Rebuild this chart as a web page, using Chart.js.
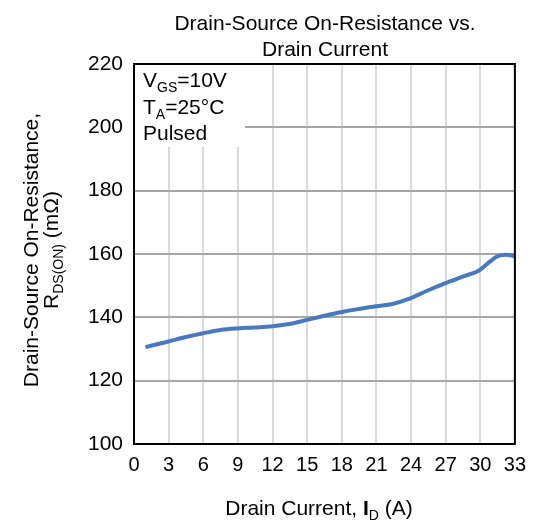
<!DOCTYPE html>
<html>
<head>
<meta charset="utf-8">
<script src="https://cdn.jsdelivr.net/npm/chart.js@4/dist/chart.umd.min.js"></script>
<style>
	html, body { margin: 0; padding: 0; background: #fff; }
	#wrap { position: relative; width: 535px; height: 522px; }
</style>
</head>
<body>
<div id="wrap"><canvas id="rds-chart"></canvas></div>
<script>
// drain current (A) and on-resistance (mOhm)
const drainCurrent = [1.0, 2.9, 4.4, 6.0, 7.5, 9.0, 10.4, 12.0, 13.6, 15.0, 16.4, 17.9, 19.4, 21.0, 22.4, 23.8, 25.4, 27.0, 28.6, 29.9, 30.6, 31.5, 32.2, 33.0];
const rdsOn = [130.6, 132.3, 133.7, 135.0, 136.0, 136.5, 136.8, 137.2, 138.0, 139.2, 140.4, 141.6, 142.6, 143.5, 144.2, 145.8, 148.4, 150.8, 153.0, 154.8, 156.9, 159.3, 159.8, 159.3];

const xTicks = [0, 3, 6, 9, 12, 15, 18, 21, 24, 27, 30, 33];
const yTicks = [100, 120, 140, 160, 180, 200, 220];

const titleLines = ["Drain-Source On-Resistance vs.", "Drain Current"];
const FONT = "'Liberation Sans', Arial, sans-serif";

// draws text made of runs, some of them subscript / bold
const drawRich = (ctx, parts, x, y, size, align) => {
	const subSize = Math.round(size * 0.68);
	const fontOf = (p) => (p.bold ? "bold " : "") + (p.sub ? subSize : size) + "px " + FONT;
	let total = 0;
	parts.forEach((p) => {
		ctx.font = fontOf(p);
		p.w = ctx.measureText(p.t).width;
		total += p.w;
	});
	let cx = align === "center" ? x - total / 2 : x;
	ctx.textAlign = "left";
	ctx.textBaseline = "alphabetic";
	parts.forEach((p) => {
		ctx.font = fontOf(p);
		ctx.fillText(p.t, cx, p.sub ? y + size * 0.25 : y);
		cx += p.w;
	});
};

const decorations = {
	id: "decorations",
	beforeDatasetsDraw(chart) {
		const { ctx, chartArea } = chart;
		ctx.save();
		// legend box hides the grid behind it
		ctx.fillStyle = "#fff";
		ctx.fillRect(chartArea.left, chartArea.top, 111, 83);
		ctx.restore();
	},
	afterDraw(chart) {
		const { ctx, chartArea } = chart;
		ctx.save();
		ctx.strokeStyle = "#000";
		ctx.lineWidth = 2;
		ctx.strokeRect(chartArea.left, chartArea.top, chartArea.right - chartArea.left, chartArea.bottom - chartArea.top);

		ctx.fillStyle = "#000";
		// title
		drawRich(ctx, [{ t: titleLines[0] }], 325, 30, 21, "center");
		drawRich(ctx, [{ t: titleLines[1] }], 325, 56, 21, "center");

		// legend text
		drawRich(ctx, [{ t: "V" }, { t: "GS", sub: true }, { t: "=10V" }], 143, 87, 21, "left");
		drawRich(ctx, [{ t: "T" }, { t: "A", sub: true }, { t: "=25°C" }], 143, 114, 21, "left");
		drawRich(ctx, [{ t: "Pulsed" }], 143, 140, 21, "left");

		// x axis title
		drawRich(ctx, [{ t: "Drain Current, " }, { t: "I", bold: true }, { t: "D", sub: true }, { t: " (A)" }], 319, 515, 21, "center");

		// y axis title, rotated
		ctx.translate(0, 250);
		ctx.rotate(-Math.PI / 2);
		drawRich(ctx, [{ t: "Drain-Source On-Resistance," }], 0, 38, 21, "center");
		drawRich(ctx, [{ t: "R" }, { t: "DS(ON)", sub: true }, { t: " (mΩ)" }], 0, 58, 21, "center");
		ctx.restore();
	},
};

const ctx = document.getElementById("rds-chart");

new Chart(ctx, {
	type: "line",
	data: {
		datasets: [
			{
				label: "RDS(ON)",
				data: drainCurrent.map((x, i) => ({ x, y: rdsOn[i] })),
				borderColor: "#4879bf",
				borderWidth: 4,
				pointRadius: 0,
				fill: false,
				cubicInterpolationMode: "monotone",
			},
		],
	},
	options: {
		responsive: true,
		maintainAspectRatio: false,
		animation: false,
		layout: {
			padding: { top: 64, right: 19, bottom: 0, left: 0 },
		},
		scales: {
			x: {
				type: "linear",
				min: xTicks[0],
				max: xTicks[xTicks.length - 1],
				afterFit: (scale) => {
					scale.height = 78;
				},
				afterBuildTicks: (scale) => {
					scale.ticks = xTicks.map((v) => ({ value: v }));
				},
				border: { display: false },
				grid: { color: "#d9d9d9", lineWidth: 2, drawTicks: false },
				ticks: {
					padding: 9,
					color: "#000",
					maxRotation: 0,
					font: { family: FONT, size: 20 },
				},
			},
			y: {
				min: yTicks[0],
				max: yTicks[yTicks.length - 1],
				afterFit: (scale) => {
					scale.width = 134;
				},
				afterBuildTicks: (scale) => {
					scale.ticks = yTicks.map((v) => ({ value: v }));
				},
				border: { display: false },
				grid: { color: "#a6a6a6", lineWidth: 2, drawTicks: false },
				ticks: {
					padding: 11,
					color: "#000",
					font: { family: FONT, size: 21 },
				},
			},
		},
		plugins: {
			legend: { display: false },
			tooltip: { enabled: false },
		},
	},
	plugins: [decorations],
});
</script>
</body>
</html>
